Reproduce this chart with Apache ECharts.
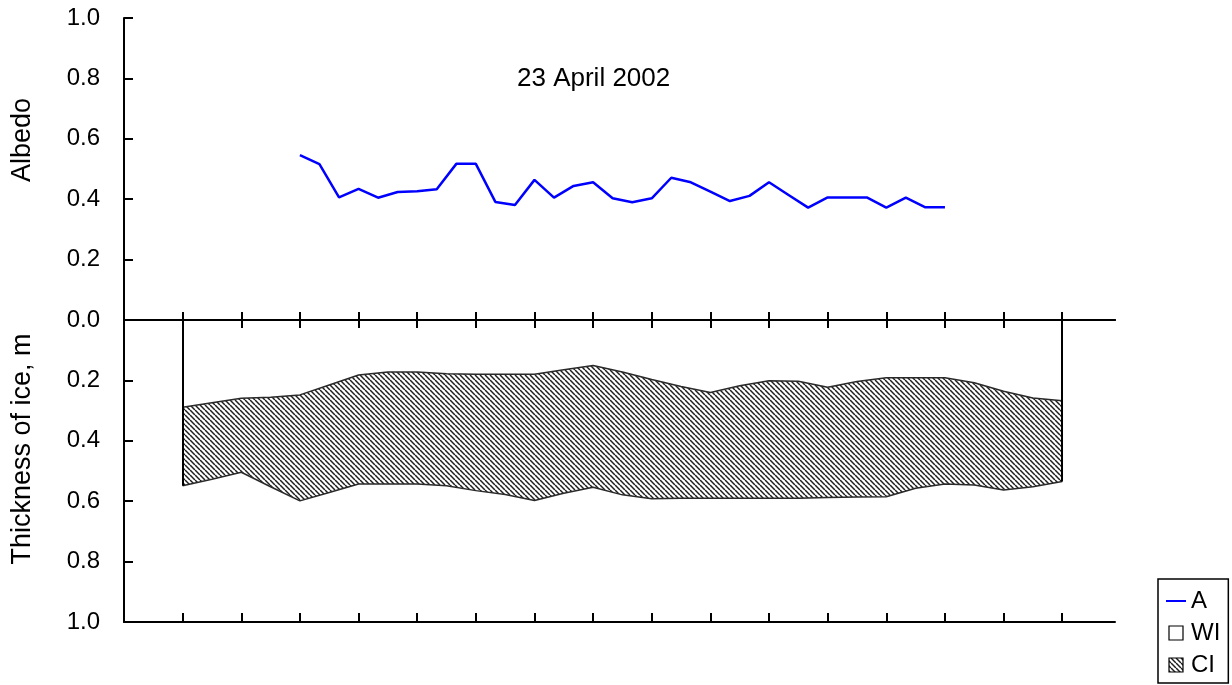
<!DOCTYPE html>
<html>
<head>
<meta charset="utf-8">
<script src="https://cdn.jsdelivr.net/npm/echarts@6/dist/echarts.min.js"></script>
<style>
  html, body { margin: 0; padding: 0; background: #fff; }
  #chart { width: 1232px; height: 685px; }
</style>
</head>
<body>
<div id="chart"></div>
<script>
// Albedo along the profile (distance in tick units)
const albedoX = [3, 3.333, 3.667, 4, 4.333, 4.667, 5, 5.333, 5.667, 6, 6.333, 6.667,
  7, 7.333, 7.667, 8, 8.333, 8.667, 9, 9.333, 9.667, 10, 10.333, 10.667,
  11, 11.333, 11.667, 12, 12.333, 12.667, 13, 13.333, 13.667, 14];
const albedo = [0.546, 0.516, 0.406, 0.434, 0.405, 0.424, 0.426, 0.433, 0.517, 0.517, 0.391, 0.381,
  0.464, 0.405, 0.444, 0.456, 0.403, 0.390, 0.403, 0.471, 0.456, 0.425, 0.394, 0.411,
  0.456, 0.414, 0.372, 0.406, 0.406, 0.406, 0.372, 0.405, 0.373, 0.373];

// Ice profile: depth of the top and bottom of crystalline ice, m
const iceX = [1, 1.5, 2, 2.5, 3, 3.5, 4, 4.5, 5, 5.5, 6, 6.5, 7, 7.5, 8, 8.5,
  9, 9.5, 10, 10.5, 11, 11.5, 12, 12.5, 13, 13.5, 14, 14.5, 15, 15.5, 16];
const iceTop = [0.289, 0.274, 0.259, 0.256, 0.248, 0.215, 0.182, 0.172, 0.172, 0.178, 0.180, 0.180,
  0.180, 0.165, 0.151, 0.172, 0.197, 0.220, 0.240, 0.218, 0.201, 0.203, 0.223, 0.204,
  0.191, 0.191, 0.191, 0.208, 0.236, 0.258, 0.267];
const iceBottom = [0.549, 0.527, 0.504, 0.552, 0.599, 0.571, 0.543, 0.543, 0.543, 0.549, 0.565, 0.578,
  0.598, 0.574, 0.554, 0.579, 0.592, 0.590, 0.590, 0.590, 0.590, 0.590, 0.588, 0.586,
  0.585, 0.557, 0.543, 0.546, 0.563, 0.552, 0.535];

const xTicks = [1, 2, 3, 4, 5, 6, 7, 8, 9, 10, 11, 12, 13, 14, 15, 16];
const albedoTicks = [0, 0.2, 0.4, 0.6, 0.8, 1];
const depthTicks = [0.2, 0.4, 0.6, 0.8, 1];

// Diagonal hatch fill for crystalline ice
function makeHatch() {
  const n = 5;
  const c = document.createElement('canvas');
  c.width = n; c.height = n;
  const g = c.getContext('2d');
  g.fillStyle = '#ffffff';
  g.fillRect(0, 0, n, n);
  g.strokeStyle = '#1e1e1e';
  g.lineWidth = 1.5;
  for (let k = -n; k <= n; k += n) {
    g.beginPath();
    g.moveTo(k, 0);
    g.lineTo(k + n, n);
    g.stroke();
  }
  return { image: c, repeat: 'repeat' };
}
const hatch = makeHatch();

const FONT = '"Liberation Sans", Arial, sans-serif';

const albedoData = albedoX.map((x, i) => [x, albedo[i]]);
// Ice layers are stacked downwards: column 0 is the depth value, column 1 the distance
const wiData = iceX.map((x, i) => [iceTop[i], x]);
const ciData = iceX.map((x, i) => [iceBottom[i] - iceTop[i], x]);
const last = iceX.length - 1;

const axisLine = { show: true, onZero: false, lineStyle: { color: '#000', width: 2 } };
const tickStyle = { color: '#000', width: 2 };
const baseX = {
  type: 'value', min: 0, max: 16.9, interval: 1, z: 5,
  splitLine: { show: false },
  axisLabel: { show: false },
  axisLine: axisLine
};
const labelStyle = { margin: 24, fontFamily: FONT, fontSize: 24, color: '#000', formatter: v => v.toFixed(1) };

const chart = echarts.init(document.getElementById('chart'), null, { renderer: 'canvas' });
chart.setOption({
  animation: false,
  backgroundColor: '#ffffff',
  title: {
    text: '23 April 2002',
    left: 512, top: 61,
    textStyle: { fontFamily: FONT, fontSize: 26, fontWeight: 'normal', color: '#000' }
  },
  grid: [
    { left: 124, right: 117, top: 18, height: 302, containLabel: false },
    { left: 124, right: 117, top: 320, height: 302, containLabel: false }
  ],
  xAxis: [
    Object.assign({}, baseX, {
      gridIndex: 0, position: 'bottom',
      axisTick: { show: true, inside: false, length: 8, customValues: xTicks, lineStyle: tickStyle }
    }),
    Object.assign({}, baseX, {
      gridIndex: 1, position: 'top',
      axisTick: { show: true, inside: false, length: 8, customValues: xTicks, lineStyle: tickStyle }
    }),
    Object.assign({}, baseX, {
      gridIndex: 1, position: 'bottom',
      axisTick: { show: true, inside: true, length: 9, customValues: xTicks, lineStyle: tickStyle }
    })
  ],
  yAxis: [
    {
      gridIndex: 0, type: 'value', min: 0, max: 1, interval: 0.2, z: 5,
      axisLine: axisLine,
      axisTick: { show: true, inside: true, length: 9, customValues: albedoTicks, lineStyle: tickStyle },
      splitLine: { show: false },
      axisLabel: Object.assign({ customValues: albedoTicks }, labelStyle)
    },
    {
      gridIndex: 1, type: 'value', min: 0, max: 1, interval: 0.2, inverse: true, z: 5,
      axisLine: axisLine,
      axisTick: { show: true, inside: true, length: 9, customValues: depthTicks, lineStyle: tickStyle },
      splitLine: { show: false },
      axisLabel: Object.assign({ customValues: depthTicks }, labelStyle)
    }
  ],
  legend: {
    orient: 'vertical',
    left: 1158, top: 579,
    padding: [10, 8, 6, 8],
    itemGap: 8,
    itemWidth: 20, itemHeight: 14,
    borderColor: '#000', borderWidth: 1.5,
    textStyle: { fontFamily: FONT, fontSize: 24, lineHeight: 23, color: '#000' },
    selectedMode: false,
    data: [
      { name: 'A', icon: 'path://M0,0H20V2H0Z', itemStyle: { color: '#0000ff', borderWidth: 0 } },
      { name: 'WI', icon: 'path://M0,0H10V10H0Z', itemStyle: { color: '#ffffff', borderColor: '#000', borderWidth: 1.2 } },
      { name: 'CI', icon: 'path://M0,0H10V10H0Z', itemStyle: { color: hatch, borderColor: '#000', borderWidth: 1.2 } }
    ]
  },
  graphic: [
    {
      type: 'text', x: 23, y: 140, rotation: Math.PI / 2,
      style: { text: 'Albedo', font: '27px ' + FONT, fill: '#000', align: 'center', verticalAlign: 'middle' }
    },
    {
      type: 'text', x: 23, y: 449, rotation: Math.PI / 2,
      style: { text: 'Thickness of ice, m', font: '27px ' + FONT, fill: '#000', align: 'center', verticalAlign: 'middle' }
    }
  ],
  series: [
    {
      name: 'WI', type: 'line', xAxisIndex: 1, yAxisIndex: 1, stack: 'ice',
      data: wiData, encode: { x: 1, y: 0 }, symbol: 'none',
      lineStyle: { color: '#2a2a2a', width: 1.5 },
      itemStyle: { color: '#ffffff' },
      markLine: {
        silent: true, symbol: 'none', label: { show: false },
        lineStyle: { color: '#000', width: 2, type: 'solid' },
        data: [
          [{ coord: [iceX[0], 0] }, { coord: [iceX[0], iceBottom[0]] }],
          [{ coord: [iceX[last], 0] }, { coord: [iceX[last], iceBottom[last]] }]
        ]
      }
    },
    {
      name: 'CI', type: 'line', xAxisIndex: 1, yAxisIndex: 1, stack: 'ice',
      data: ciData, encode: { x: 1, y: 0 }, symbol: 'none',
      lineStyle: { color: '#2a2a2a', width: 1.5 },
      itemStyle: { color: '#555' },
      areaStyle: { color: hatch, opacity: 1 }
    },
    {
      name: 'A', type: 'line', xAxisIndex: 0, yAxisIndex: 0,
      data: albedoData, symbol: 'none',
      lineStyle: { color: '#0000ff', width: 2.5 },
      itemStyle: { color: '#0000ff' }
    }
  ]
});
</script>
</body>
</html>
